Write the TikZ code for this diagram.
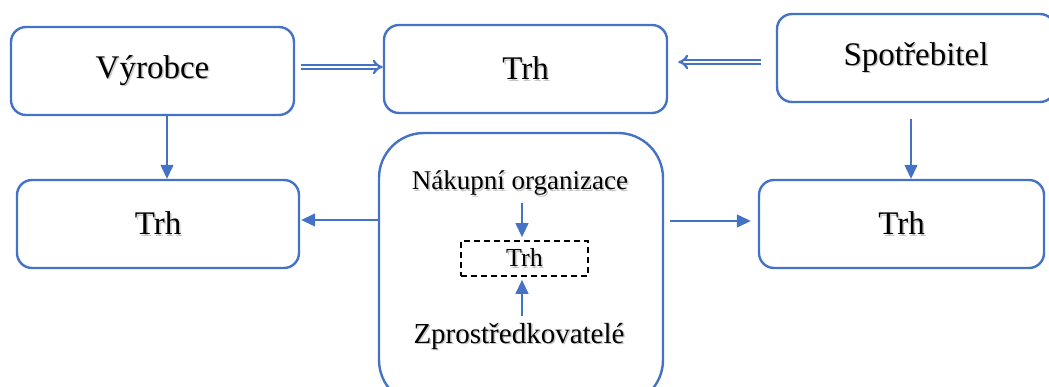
\documentclass[tikz,border=0pt]{standalone}
\usepackage{fontspec}
\setmainfont{Liberation Serif}
\usetikzlibrary{arrows.meta}
\definecolor{boxblue}{HTML}{4472C4}
% text with a soft grey drop shadow
\newcommand\shtext[1]{\makebox[0pt][l]{\hspace{1.5pt}\raisebox{-1.5pt}{\textcolor{black!22}{#1}}}#1}

\begin{document}
\begin{tikzpicture}[x=1pt,y=-1pt,
  box/.style={draw=boxblue, line width=2.4pt, rounded corners=15pt,
    minimum height=88pt, font=\fontsize{33}{38}\selectfont},
  arr/.style={draw=boxblue, line width=1.3pt, -{Triangle[length=14pt,width=13pt]}},
  dbl/.style={draw=boxblue, double, double distance=2.4pt, line width=2.2pt,
    -{Implies[length=7pt]}},
]
\clip (0,0) rectangle (1049,387);

% Top row
\node[box, minimum width=283pt] (vyrobce) at (152.5,71) {\shtext{Výrobce}};
\node[box, minimum width=283pt] (trhTop) at (525.5,69) {\shtext{Trh}};
\node[box, minimum width=278pt] (spotr) at (916,58) {\shtext{Spotřebitel}};

% Bottom row
\node[box, minimum width=282pt] (trhLeft) at (158,224) {\shtext{Trh}};
\node[box, minimum width=285pt] (trhRight) at (901.5,224) {\shtext{Trh}};
\node[box, minimum width=284pt, minimum height=272pt, rounded corners=45pt]
  (mid) at (521,269) {};

% Inside the middle box
\node[font=\fontsize{27}{32}\selectfont] (nakup) at (520,184) {\shtext{Nákupní organizace}};
\node[draw=black, dashed, line width=1.8pt, dash pattern=on 6pt off 4pt,
  minimum width=127pt, minimum height=35pt, inner sep=0pt,
  font=\fontsize{26}{30}\selectfont] (trhIn) at (524.5,258.5) {\shtext{Trh}};
\node[font=\fontsize{29}{34}\selectfont] (zprost) at (519,337) {\shtext{Zprostředkovatelé}};

\draw[arr, shorten <=2pt, shorten >=3pt] ([xshift=2pt]nakup.south) -- ([xshift=2pt]nakup.south |- trhIn.north);
\draw[arr, shorten <=4pt, shorten >=3pt] ([xshift=3pt]zprost.north) -- ([xshift=3pt]zprost.north |- trhIn.south);

% Links between the boxes
\draw[dbl, shorten <=6pt] ([yshift=4pt]vyrobce.east) -- ([yshift=4pt]vyrobce.east -| trhTop.west);
\draw[dbl, shorten <=15pt, shorten >=10pt] ([yshift=-4pt]spotr.west) -- ([yshift=-4pt]spotr.west -| trhTop.east);

\draw[arr] ([xshift=14.5pt]vyrobce.south) -- ([xshift=14.5pt]vyrobce.south |- trhLeft.north);
\draw[arr, shorten <=16pt] ([xshift=-5pt]spotr.south) -- ([xshift=-5pt]spotr.south |- trhRight.north);

\draw[arr, shorten >=1pt] ([yshift=4pt]mid.west |- trhLeft.east) -- ([yshift=4pt]trhLeft.east);
\draw[arr, shorten <=6pt, shorten >=7pt] ([yshift=3pt]mid.east |- trhRight.west) -- ([yshift=3pt]trhRight.west);
\end{tikzpicture}
\end{document}
